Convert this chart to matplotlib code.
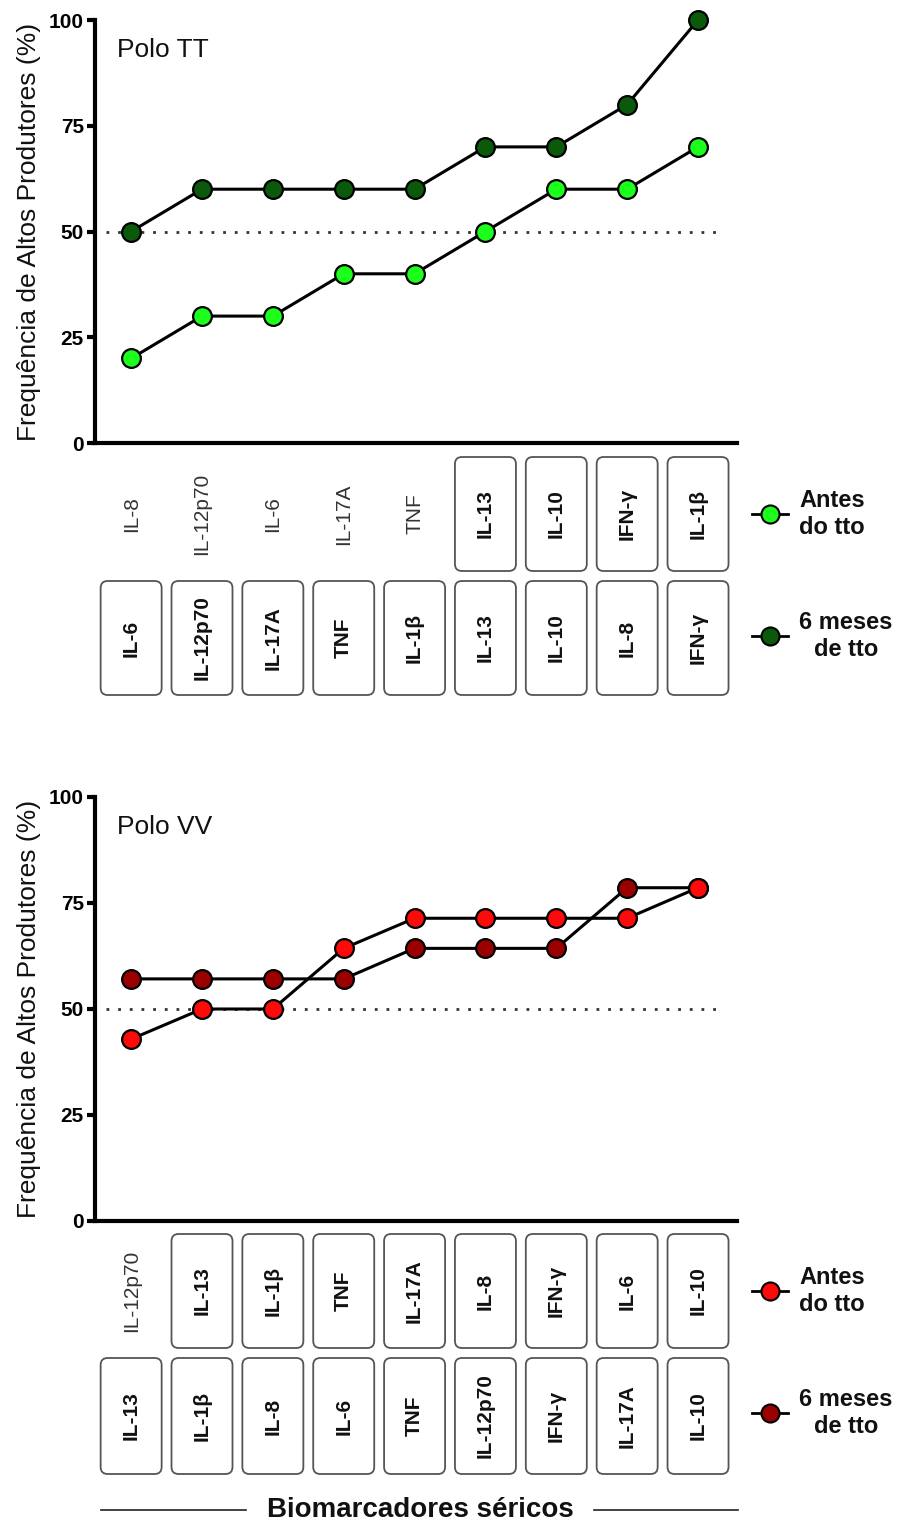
import matplotlib
matplotlib.use("Agg")
import matplotlib.pyplot as plt
from matplotlib.patches import FancyBboxPatch
from matplotlib.transforms import IdentityTransform
from matplotlib.lines import Line2D

plt.rcParams['font.family'] = ['Liberation Sans', 'DejaVu Sans']

# ---------------- data ----------------
tt_before_labels = ["IL-8", "IL-12p70", "IL-6", "IL-17A", "TNF", "IL-13", "IL-10", "IFN-γ", "IL-1β"]
tt_before_values = [20, 30, 30, 40, 40, 50, 60, 60, 70]
tt_before_boxed = [False, False, False, False, False, True, True, True, True]

tt_after_labels = ["IL-6", "IL-12p70", "IL-17A", "TNF", "IL-1β", "IL-13", "IL-10", "IL-8", "IFN-γ"]
tt_after_values = [50, 60, 60, 60, 60, 70, 70, 80, 100]
tt_after_boxed = [True] * 9

vv_before_labels = ["IL-12p70", "IL-13", "IL-1β", "TNF", "IL-17A", "IL-8", "IFN-γ", "IL-6", "IL-10"]
vv_before_values = [42.9, 50.0, 50.0, 64.3, 71.4, 71.4, 71.4, 71.4, 78.6]
vv_before_boxed = [False, True, True, True, True, True, True, True, True]

vv_after_labels = ["IL-13", "IL-1β", "IL-8", "IL-6", "TNF", "IL-12p70", "IFN-γ", "IL-17A", "IL-10"]
vv_after_values = [57.1, 57.1, 57.1, 57.1, 64.3, 64.3, 64.3, 78.6, 78.6]
vv_after_boxed = [True] * 9

y_ticks = [0, 25, 50, 75, 100]
threshold = 50
legend_before = "Antes\ndo tto"
legend_after = "6 meses\nde tto"
ylabel = "Frequência de Altos Produtores (%)"
xlabel = "Biomarcadores séricos"

TT_LIGHT = "#1cff1c"
TT_DARK = "#0b5a0b"
VV_LIGHT = "#ff0a0a"
VV_DARK = "#9a0000"

W, H = 900, 1524
fig = plt.figure(figsize=(W / 100, H / 100), dpi=100)
ID = IdentityTransform()


def rect(l, t, r, b):
    return [l / W, 1 - b / H, (r - l) / W, (b - t) / H]


def draw_label(ax, i, label, boxed, top, bottom):
    xc = ax.transData.transform((i, 0))[0]
    yc = H - (top + bottom) / 2
    if boxed:
        p = FancyBboxPatch((xc - 30.5, H - bottom), 61, bottom - top,
                           boxstyle="round,pad=0,rounding_size=7",
                           transform=ID, facecolor="white",
                           edgecolor="#555555", linewidth=1.3)
        fig.add_artist(p)
        fig.text(xc, yc, label, transform=ID, rotation=90, ha="center",
                 va="center", fontsize=15, fontweight="bold", color="#111111")
    else:
        fig.text(xc, yc, label, transform=ID, rotation=90, ha="center",
                 va="center", fontsize=15, fontweight="normal", color="#333333")


def legend_entry(y, color, text, text_x):
    fig.add_artist(Line2D([752, 770, 788], [H - y] * 3, transform=ID, color="black",
                          lw=2.0, marker="o", markevery=[1], markersize=13,
                          markerfacecolor=color, markeredgecolor="black",
                          markeredgewidth=1.5))
    fig.text(text_x, H - y, text, transform=ID, ha="center", va="center",
             fontsize=17, fontweight="bold", linespacing=1.2, color="#111111")


def panel(axpx, title, before_vals, after_vals, before_labels, after_labels,
          before_boxed, after_boxed, c_light, c_dark, row1, row2, leg1, leg2):
    ax = fig.add_axes(rect(*axpx))
    n = len(before_vals)
    xs = list(range(n))
    for vals in (after_vals, before_vals):
        ax.plot(xs, vals, color="black", lw=2.2, zorder=3)
    for vals, col in ((after_vals, c_dark), (before_vals, c_light)):
        ax.plot(xs, vals, linestyle="none", marker="o", markersize=13.5,
                markerfacecolor=col, markeredgecolor="black",
                markeredgewidth=1.6, zorder=4, clip_on=False)
    ax.plot([-0.36, 8.35], [threshold, threshold], color="#333333", lw=2.0,
            linestyle=(0, (1, 3.2)), zorder=2)
    ax.set_xlim(-0.51, 8.55)
    ax.set_ylim(0, 100)
    ax.set_yticks(y_ticks)
    ax.set_xticks([])
    for s in ("top", "right"):
        ax.spines[s].set_visible(False)
    for s in ("left", "bottom"):
        ax.spines[s].set_linewidth(3)
    ax.tick_params(axis="y", width=3, length=6, labelsize=15, pad=2)
    for t in ax.get_yticklabels():
        t.set_fontweight("bold")
    ax.set_ylabel(ylabel, fontsize=19, color="#111111")
    ax.yaxis.set_label_coords(-0.084, 0.5)
    ax.text(-0.2, 93, title, fontsize=19, ha="left", va="center", color="#111111")
    for i in range(n):
        draw_label(ax, i, before_labels[i], before_boxed[i], *row1)
        draw_label(ax, i, after_labels[i], after_boxed[i], *row2)
    legend_entry(leg1, c_light, legend_before, 832)
    legend_entry(leg2, c_dark, legend_after, 846)
    return ax


panel((95, 20, 737, 443), "Polo TT", tt_before_values, tt_after_values,
      tt_before_labels, tt_after_labels, tt_before_boxed, tt_after_boxed,
      TT_LIGHT, TT_DARK, (457, 571), (581, 695), 514, 636)

panel((95, 797, 737, 1221), "Polo VV", vv_before_values, vv_after_values,
      vv_before_labels, vv_after_labels, vv_before_boxed, vv_after_boxed,
      VV_LIGHT, VV_DARK, (1234, 1348), (1358, 1474), 1291, 1413)

fig.text(420, H - 1510, xlabel, transform=ID, ha="center", va="center",
         fontsize=20, fontweight="bold", color="#111111")
fig.add_artist(Line2D([101, 246], [H - 1510] * 2, transform=ID, color="#222222", lw=1.2))
fig.add_artist(Line2D([594, 738], [H - 1510] * 2, transform=ID, color="#222222", lw=1.2))

fig.savefig("out.png", dpi=100, facecolor="white")
